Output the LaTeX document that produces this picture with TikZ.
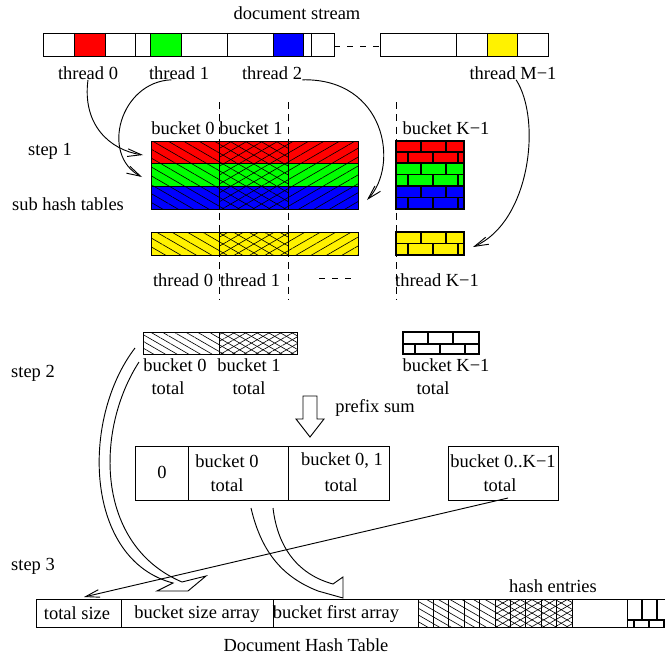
\documentclass[tikz,border=0pt]{standalone}
\usepackage{fontspec}
\setmainfont{Liberation Serif}
\usetikzlibrary{patterns.meta,arrows.meta}

\tikzset{
  cell/.style={draw=black, line width=0.6pt},
  txt/.style={inner sep=0pt, font=\fontsize{12}{14}\selectfont},
  conn/.style={line width=0.6pt, -{Straight Barb[length=9pt,width=5pt]}},
  vdash/.style={dash pattern=on 4.5pt off 3.5pt, line width=0.6pt},
  hdash/.style={dash pattern=on 4pt off 4.5pt, line width=0.6pt},
  brick/.style={line width=1pt},
  hollow/.style={line width=0.6pt},
  hatchdown/.style={pattern={Lines[angle=-30,distance=#1,line width=0.4pt]}},
  hatchdown/.default=3.8pt,
  hatchup/.style={pattern={Lines[angle=30,distance=#1,line width=0.4pt]}},
  hatchup/.default=3.8pt,
  hatchcross/.style={preaction={pattern={Lines[angle=-30,distance=#1,line width=0.4pt]}},
                     pattern={Lines[angle=30,distance=#1,line width=0.4pt]}},
  hatchcross/.default=3.8pt,
}

% one band of bricks: x0,y0,x1,y1, mortar line y, joints of upper row, joints of lower row
\newcommand\brickband[7]{%
  \begin{scope}
    \clip (#1,#2) rectangle (#3,#4);
    \draw[brick] (#1,#5) -- (#3,#5);
    \foreach \bx in {#6} \draw[brick] (\bx,#2) -- (\bx,#5);
    \foreach \bx in {#7} \draw[brick] (\bx,#5) -- (\bx,#4);
  \end{scope}
  \draw[brick] (#1,#2) rectangle (#3,#4);}

% one hatched, coloured row of the sub hash tables
\newcommand\hashrow[3]{%
  \path[preaction={fill=#1}, hatchdown=5pt]  (151,#2) rectangle (219,#3);
  \path[preaction={fill=#1}, hatchcross=5pt] (219,#2) rectangle (288,#3);
  \path[preaction={fill=#1}, hatchup=5pt]    (288,#2) rectangle (358,#3);
  \draw[cell] (151,#2) rectangle (358,#3);
  \draw[cell] (219,#2) -- (219,#3) (288,#2) -- (288,#3);}

\begin{document}
\begin{tikzpicture}[x=0.65pt, y=-0.65pt]
\useasboundingbox (0,0) rectangle (665,657);

% ---------------- document stream ----------------
\node[txt] (dstream) at (297,13) {document stream};

\fill[red]    (74,33)  rectangle (105,56);
\fill[green]  (150,33) rectangle (181,56);
\fill[blue]   (273,33) rectangle (303,56);
\fill[yellow] (487,33) rectangle (517,56);
\draw[cell] (43,33) rectangle (334,56);
\foreach \x in {74,105,135,150,181,227,273,303,311}
  \draw[cell] (\x,33) -- (\x,56);
\draw[hdash] (334,46) -- (380,46);
\draw[cell] (380,33) rectangle (548,56);
\foreach \x in {456,487,517}
  \draw[cell] (\x,33) -- (\x,56);

\node[txt] (th0) at (88,73)  {thread 0};
\node[txt] (th1) at (179,73) {thread 1};
\node[txt] (th2) at (272,73) {thread 2};
\node[txt] (thM) at (513,73) {thread M−1};

% ---------------- step 1: sub hash tables ----------------
\node[txt] (step1) at (50,151) {step 1};
\node[txt] (subht) at (68,204) {sub hash tables};

\foreach \x in {219,288,396}
  \draw[vdash] (\x,102) -- (\x,300);

\node[txt] (bk0) at (183,128) {bucket 0};
\node[txt] (bk1) at (251,128) {bucket 1};
\node[txt] (bkK) at (446,128) {bucket K−1};

\hashrow{red}{141}{163}
\hashrow{green}{163}{186}
\hashrow{blue}{186}{209}
\hashrow{yellow}{232}{255}

\fill[red]    (396,141) rectangle (464,163);
\fill[green]  (396,163) rectangle (464,186);
\fill[blue]   (396,186) rectangle (464,209);
\fill[yellow] (396,232) rectangle (464,255);
\brickband{396}{141}{464}{163}{152}{421,446}{408,433,458}
\brickband{396}{163}{464}{186}{174.5}{421,446}{408,433,458}
\brickband{396}{186}{464}{209}{197.5}{421,446}{408,433,458}
\brickband{396}{232}{464}{255}{243.5}{421,446}{408,433,458}

\node[txt] (tk0) at (183,280) {thread 0};
\node[txt] (tk1) at (250,280) {thread 1};
\draw[hdash] (319,278) -- (352,278);
\node[txt] (tkK) at (437,280) {thread K−1};

% arrows from the stream threads into the sub tables
\coordinate (in0) at (143,155);
\coordinate (in1) at (142,177);
\coordinate (in2) at (367,200);
\coordinate (inM) at (473,247);
\draw[conn] (th0.south) .. controls (82,125) and (110,150) .. (in0);
\draw[conn] ([xshift=-5pt]th1.south) .. controls (120,82) and (100,155) .. (in1);
\draw[conn] (th2.south east) .. controls (385,78) and (400,165) .. (in2);
\draw[conn] ([xshift=2pt]thM.south) .. controls (542,120) and (530,222) .. (inM);

% ---------------- step 2: bucket totals ----------------
\node[txt] (step2) at (33,373) {step 2};

\path[hatchdown]  (143,332) rectangle (219,354);
\path[hatchcross] (219,332) rectangle (297,354);
\draw[cell] (143,332) rectangle (297,354);
\draw[cell] (219,332) -- (219,354);

\brickband{403}{332}{479}{354}{344}{428,453}{415,440,465}

\node[txt] (tot0a) at (175,365) {bucket 0};
\node[txt] (tot0b) at (168,388) {total};
\node[txt] (tot1a) at (249,365) {bucket 1};
\node[txt] (tot1b) at (249,388) {total};
\node[txt] (totKa) at (446,365) {bucket K−1};
\node[txt] (totKb) at (433,388) {total};

% prefix-sum arrow
\draw[hollow] (303,396) -- (317,396) -- (317,419) -- (324,419) -- (310,437)
              -- (296,419) -- (303,419) -- cycle;
\node[txt, anchor=west] (psum) at (335,408) {prefix sum};

% prefix sum array
\draw[cell] (135,446) rectangle (389,500);
\draw[cell] (188,446) -- (188,500) (288,446) -- (288,500);
\draw[cell] (448,446) rectangle (558,500);
\node[txt] (ps0)  at (162,472) {0};
\node[txt] (ps1a) at (227,461) {bucket 0};
\node[txt] (ps1b) at (227,485) {total};
\node[txt] (ps2a) at (342,461) {bucket 0, 1};
\node[txt] (ps2b) at (341,485) {total};
\node[txt] (psKa) at (503,461) {bucket 0..K−1};
\node[txt] (psKb) at (500,485) {total};

% ---------------- step 3: document hash table ----------------
\node[txt] (step3) at (33,566) {step 3};

\draw[cell] (665,599) -- (36,599) -- (36,627) -- (665,627);
\foreach \x in {121,273,418}
  \draw[cell] (\x,599) -- (\x,627);
\foreach \i in {0,...,4}
  \path[hatchdown] ({418+15.4*\i},599) rectangle ({418+15.4*(\i+1)},627);
\foreach \i in {5,...,9}
  \path[hatchcross] ({418+15.4*\i},599) rectangle ({418+15.4*(\i+1)},627);
\foreach \i in {0,...,10}
  \draw[cell] ({418+15.4*\i},599) -- ({418+15.4*\i},627);
\begin{scope}
  \clip (627,599) rectangle (665,627);
  \draw[brick] (627,599) -- (627,627);
  \draw[brick] (627,620) -- (665,620);
  \foreach \x in {642,657} \draw[brick] (\x,599) -- (\x,620);
  \foreach \x in {634,649,664} \draw[brick] (\x,620) -- (\x,627);
\end{scope}

\node[txt] (tsize) at (77,613)  {total size};
\node[txt] (bsize) at (197,614) {bucket size array};
\node[txt] (bfirst) at (336,614) {bucket first array};
\node[txt] (hent) at (553,586)  {hash entries};
\node[txt] (dht) at (306,645)   {Document Hash Table};

% total size from the last prefix sum
\coordinate (ksrc) at (508,498);
\coordinate (kdst) at (84,597);
\draw[conn] (ksrc) -- (kdst);

% bucket totals into the bucket size array
\coordinate (a1) at (135,348);
\coordinate (a2) at (139,362);
\draw[hollow] (a1) .. controls (80,420) and (85,560) .. (173,583)
      -- (157,591) -- (188,591) -- (206,576) -- (182,582)
      .. controls (95,545) and (95,430) .. (a2);

% prefix sums into the bucket first array
\coordinate (b1) at (251,508);
\coordinate (b2) at (273,508);
\draw[hollow] (b1) .. controls (262,555) and (285,578) .. (318,591) -- (343,598)
      -- (343,577) -- (333,584) .. controls (300,575) and (278,550) .. (b2);

\end{tikzpicture}
\end{document}
